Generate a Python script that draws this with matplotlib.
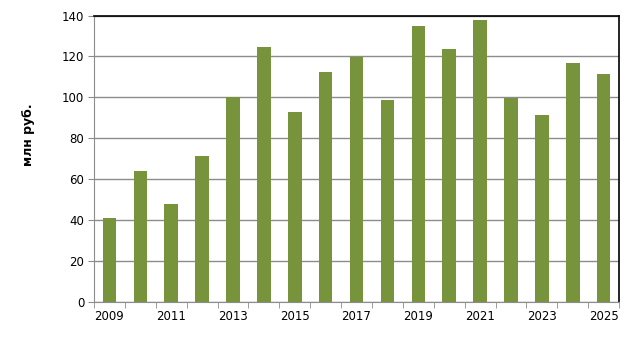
import matplotlib
matplotlib.use("Agg")
import matplotlib.pyplot as plt
import numpy as np

# данные
years = [2009, 2010, 2011, 2012, 2013, 2014, 2015, 2016, 2017,
         2018, 2019, 2020, 2021, 2022, 2023, 2024, 2025]
values = [41.1, 64.0, 48.0, 71.4, 100.0, 124.5, 92.8, 112.3, 119.8,
          98.7, 134.8, 123.6, 137.7, 99.8, 91.4, 116.7, 111.4]
ylabel = "млн руб."

bar_color = "#77933C"
grid_color = "#8C8C8C"

fig = plt.figure(figsize=(6.33, 3.37), dpi=100)
ax = fig.add_axes([0.1485, 0.104, 0.8295, 0.850])

x = np.arange(len(years))
ax.bar(x, values, width=0.44, color=bar_color, zorder=3)

ax.set_xlim(-0.5, len(years) - 0.5)
ax.set_ylim(0, 140)
ax.set_yticks(np.arange(0, 141, 20))
ax.yaxis.grid(True, color=grid_color, linewidth=1.0, zorder=0)

ax.set_xticks(x[::2])
ax.set_xticklabels([str(y) for y in years[::2]])
ax.set_xticks(np.arange(-0.5, len(years), 1.0), minor=True)
ax.tick_params(axis="x", which="major", length=0, pad=6, labelsize=8.5)
ax.tick_params(axis="x", which="minor", length=4, color=grid_color, direction="out")
ax.tick_params(axis="y", length=4, color=grid_color, labelsize=8.5, pad=3)

for s in ["left", "bottom"]:
    ax.spines[s].set_color(grid_color)
for s in ["top", "right"]:
    ax.spines[s].set_color("black")
    ax.spines[s].set_linewidth(1.2)

fig.text(0.045, 0.60, ylabel, rotation=90, ha="center", va="center",
         fontsize=9, fontweight="bold")

fig.savefig("out.png", dpi=100)
